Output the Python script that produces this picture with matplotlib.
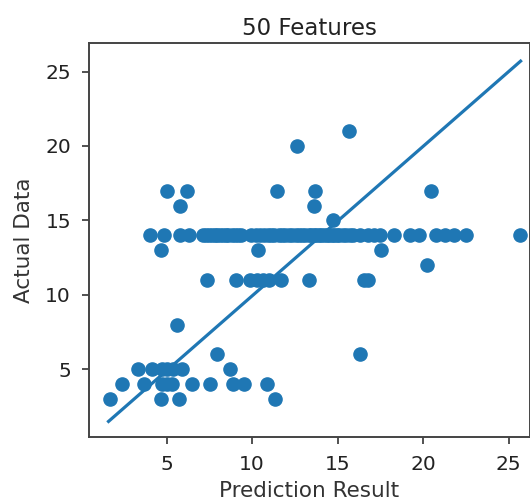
import matplotlib
matplotlib.use("Agg")
import matplotlib.pyplot as plt

# Predicted values grouped by the actual value they correspond to
pred_3 = [1.68, 4.65, 5.75, 11.35]
pred_4 = [2.4, 3.65, 4.7, 5.0, 5.3, 6.47, 7.55, 8.9, 9.5, 10.87]
pred_5 = [3.34, 4.15, 4.7, 5.0, 5.35, 5.9, 8.7]
pred_6 = [7.92, 16.3]
pred_8 = [5.62]
pred_11 = [7.35, 9.05, 9.9, 10.3, 10.65, 11.0, 11.7, 13.3, 16.55, 16.75]
pred_12 = [20.2]
pred_13 = [4.65, 10.35, 17.55]
pred_14 = [4.05, 4.85, 5.8, 6.3, 7.1, 7.3, 7.5, 7.65, 7.8, 7.95, 8.1, 8.3,
           8.45, 8.6, 8.8, 9.0, 9.2, 9.35, 9.95, 10.2, 10.45, 10.7, 10.9,
           11.1, 11.3, 11.55, 11.75, 11.95, 12.15, 12.35, 12.55, 12.75, 12.9,
           13.1, 13.3, 13.45, 13.6, 13.75, 13.9, 14.05, 14.2, 14.35, 14.5,
           14.65, 14.8, 14.95, 15.1, 15.3, 15.5, 15.7, 15.9, 16.3, 16.8,
           17.15, 17.5, 18.3, 19.25, 19.75, 20.75, 21.3, 21.8, 22.5, 25.65]
pred_15 = [14.72]
pred_16 = [5.78, 13.62]
pred_17 = [5.02, 6.2, 11.48, 13.65, 20.45]
pred_20 = [12.62]
pred_21 = [15.67]

groups = {3: pred_3, 4: pred_4, 5: pred_5, 6: pred_6, 8: pred_8, 11: pred_11,
          12: pred_12, 13: pred_13, 14: pred_14, 15: pred_15, 16: pred_16,
          17: pred_17, 20: pred_20, 21: pred_21}

prediction = []
actual = []
for a, preds in groups.items():
    prediction.extend(preds)
    actual.extend([a] * len(preds))

# fitted / identity line endpoints
fit_x = [1.6, 25.7]
fit_y = [1.5, 25.7]

x_ticks = [5, 10, 15, 20, 25]
y_ticks = [5, 10, 15, 20, 25]

color = "#1f77b4"
fig = plt.figure(figsize=(5.30, 5.03), dpi=100)
ax = fig.add_axes([0.168, 0.132, 0.832, 0.782])
ax.scatter(prediction, actual, s=90, color=color, zorder=2)
ax.plot(fit_x, fit_y, color=color, linewidth=2.3, zorder=3)

ax.set_xlim(0.46, 26.25)
ax.set_ylim(0.48, 26.9)
ax.set_xticks(x_ticks)
ax.set_yticks(y_ticks)
ax.tick_params(axis="both", labelsize=14.5, length=5, width=1.2,
               colors="#333333", labelcolor="#222222")
ax.tick_params(axis="y", pad=8)
ax.tick_params(axis="x", pad=8)
for sp in ax.spines.values():
    sp.set_linewidth(1.4)
    sp.set_color("#444444")

ax.set_title("50 Features", fontsize=16.5, color="#222222", pad=6)
ax.set_xlabel("Prediction Result", fontsize=15.5, color="#333333", labelpad=5)
ax.set_ylabel("Actual Data", fontsize=15.5, color="#333333", labelpad=8)

fig.savefig("out.png", dpi=100)
